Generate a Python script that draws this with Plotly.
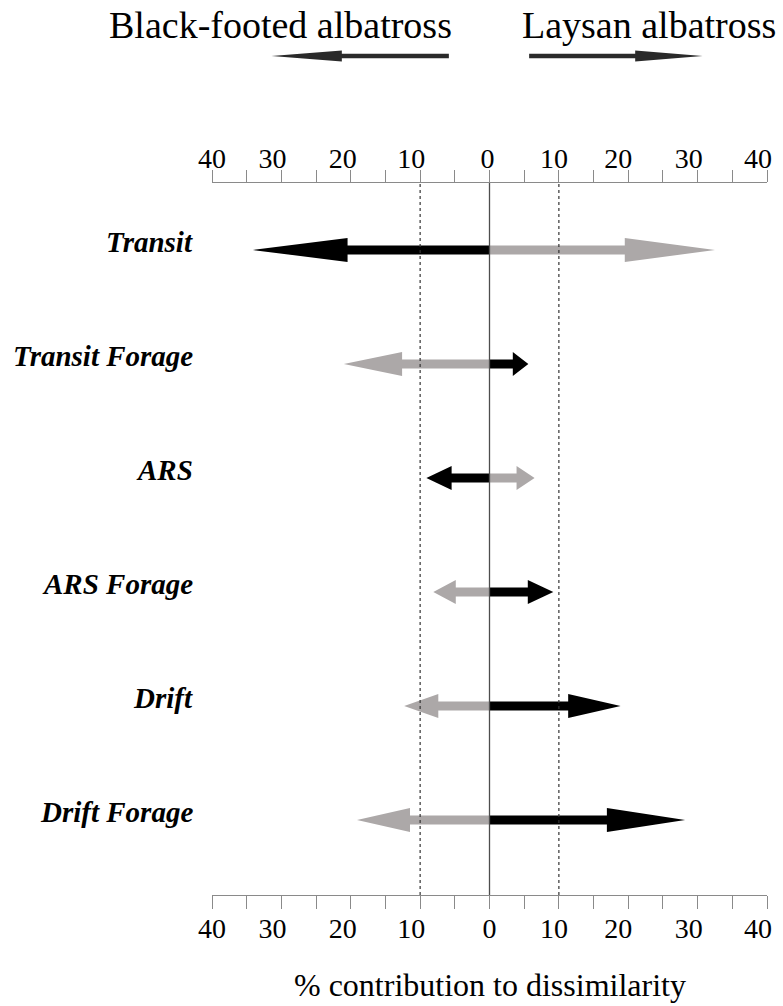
import plotly.graph_objects as go

# Behaviour states (top to bottom) and their % contribution to dissimilarity
behaviours = ["Transit", "Transit Forage", "ARS", "ARS Forage", "Drift", "Drift Forage"]
# contribution pointing towards Black-footed albatross (drawn to the left)
toward_blackfooted = [34.1, 21.0, 9.1, 8.1, 12.3, 19.1]
# contribution pointing towards Laysan albatross (drawn to the right)
toward_laysan = [32.5, 5.6, 6.5, 9.2, 18.9, 28.2]
# shading of each arrow: "dark" or "light"
shade_blackfooted = ["dark", "light", "dark", "light", "light", "light"]
shade_laysan = ["light", "dark", "light", "dark", "dark", "dark"]

tick_values = [-40, -35, -30, -25, -20, -15, -10, -5, 0, 5, 10, 15, 20, 25, 30, 35, 40]
label_values = [-40, -30, -20, -10, 0, 10, 20, 30, 40]
label_text = ["40", "30", "20", "10", "0", "10", "20", "30", "40"]

SHADES = {"dark": "#000000", "light": "#aca8a8"}
FONT = "Liberation Serif, Times New Roman, serif"

W, H = 783, 1006
ML, MR, MT, MB = 212, 11, 183, 111
plot_w = W - ML - MR
plot_h = H - MT - MB
x_min, x_max = -40, 40
px_per_x = plot_w / (x_max - x_min)
row_px = 114.0
y_top = -67.0 / row_px
y_bottom = y_top + plot_h / row_px

shaft_half = 4.6 / row_px
head_half = 12.0 / row_px
head_frac = 0.4


def arrow_polygon(value, row):
    base = value * (1 - head_frac)
    xs = [0, base, base, value, base, base, 0, 0]
    ys = [row - shaft_half, row - shaft_half, row - head_half, row,
          row + head_half, row + shaft_half, row + shaft_half, row - shaft_half]
    return xs, ys


fig = go.Figure()

for i, name in enumerate(behaviours):
    for val, shade in ((-toward_blackfooted[i], shade_blackfooted[i]),
                       (toward_laysan[i], shade_laysan[i])):
        xs, ys = arrow_polygon(val, i)
        fig.add_trace(go.Scatter(
            x=xs, y=ys, mode="lines", fill="toself",
            fillcolor=SHADES[shade], line=dict(width=0, color=SHADES[shade]),
            hoverinfo="skip", showlegend=False,
        ))

axis_common = dict(range=[x_min, x_max], showgrid=False, zeroline=False, fixedrange=True)
label_font = dict(family=FONT, size=28, color="black")

fig.update_layout(
    width=W, height=H,
    margin=dict(l=ML, r=MR, t=MT, b=MB),
    paper_bgcolor="white", plot_bgcolor="white",
    showlegend=False,
    font=dict(family=FONT, color="black"),
    xaxis=dict(**axis_common, tickvals=tick_values, ticks="outside", ticklen=13,
               tickwidth=1, tickcolor="#8a8a8a", showline=True, linecolor="#8a8a8a",
               linewidth=1.2, showticklabels=False),
    xaxis2=dict(**axis_common, overlaying="x", side="top", anchor="y",
                tickvals=tick_values, ticks="outside", ticklen=12, tickwidth=1,
                tickcolor="#8a8a8a", showline=True, linecolor="#8a8a8a",
                linewidth=1.2, showticklabels=False),
    # tick labels sit slightly left of their tick marks
    xaxis3=dict(**axis_common, overlaying="x", side="bottom", anchor="y",
                tickvals=[v - n / px_per_x for v, n in zip(label_values, [0, 9, 8, 9, 0, 5, 10, 9, 9])],
                ticktext=label_text, ticks="outside", ticklen=8,
                tickcolor="rgba(0,0,0,0)", showline=False, tickfont=label_font),
    xaxis4=dict(**axis_common, overlaying="x", side="top", anchor="y",
                tickvals=[v - n / px_per_x for v, n in zip(label_values, [0, 9, 8, 9, 2, 5, 10, 9, 9])],
                ticktext=label_text, ticks="outside", ticklen=3,
                tickcolor="rgba(0,0,0,0)", showline=False, tickfont=label_font),
    yaxis=dict(range=[y_bottom, y_top], visible=False, fixedrange=True),
)

# empty traces so the overlaid axes are rendered
for ax in ("x2", "x3", "x4"):
    fig.add_trace(go.Scatter(x=[None], y=[None], xaxis=ax, yaxis="y",
                             showlegend=False, hoverinfo="skip"))

# centre line and the +/-10 % reference lines
fig.add_shape(type="line", xref="x", yref="paper", x0=0, x1=0, y0=0, y1=1,
              line=dict(color="#4d4d4d", width=1.3))
for v in (-10, 10):
    fig.add_shape(type="line", xref="x", yref="paper", x0=v, x1=v, y0=0, y1=1,
                  line=dict(color="#333333", width=1.2, dash="3px,3px"))

# behaviour labels
for i, name in enumerate(behaviours):
    fig.add_annotation(text=f"<b><i>{name}</i></b>", xref="paper", yref="y",
                       x=(195 - ML) / plot_w, y=i, xanchor="right", yanchor="middle",
                       yshift=8, showarrow=False,
                       font=dict(family=FONT, size=29, color="black"))


def px_to_paper(px, py):
    return (px - ML) / plot_w, (H - MB - py) / plot_h


# species headers with direction arrows
fig.add_annotation(text="Black-footed albatross", xref="paper", yref="paper",
                   x=px_to_paper(281, 0)[0], y=px_to_paper(0, 25)[1],
                   xanchor="center", yanchor="middle", showarrow=False,
                   font=dict(family=FONT, size=38, color="black"))
fig.add_annotation(text="Laysan albatross", xref="paper", yref="paper",
                   x=px_to_paper(653, 0)[0], y=px_to_paper(0, 25)[1],
                   xanchor="center", yanchor="middle", showarrow=False,
                   font=dict(family=FONT, size=38, color="black"))


def header_arrow(tail, base, tip, yc, sh=2.2, hh=5.5):
    pts = [(tail, yc - sh), (base, yc - sh), (base, yc - hh), (tip, yc),
           (base, yc + hh), (base, yc + sh), (tail, yc + sh)]
    pp = [px_to_paper(a, b) for a, b in pts]
    path = "M " + " L ".join(f"{a:.5f},{b:.5f}" for a, b in pp) + " Z"
    fig.add_shape(type="path", xref="paper", yref="paper", path=path,
                  fillcolor="#2a2a2a", line=dict(width=0))


header_arrow(451, 343, 272, 56)
header_arrow(532, 639, 707, 56)

# axis title
fig.add_annotation(text="% contribution to dissimilarity", xref="paper", yref="paper",
                   x=0.5, y=px_to_paper(0, 985)[1], xanchor="center", yanchor="middle",
                   showarrow=False, font=dict(family=FONT, size=32, color="black"))

fig.write_html("out.html")
